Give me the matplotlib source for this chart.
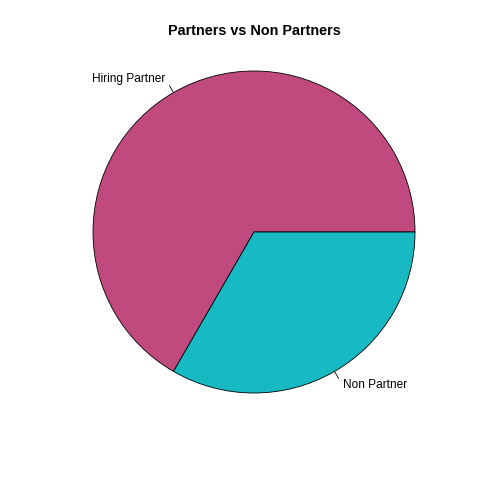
import numpy as np
import matplotlib
matplotlib.use("Agg")
import matplotlib.pyplot as plt

# data
labels = ["Hiring Partner", "Non Partner"]
values = [2, 1]
colors = ["#C04A7E", "#17BAC3"]

plt.rcParams['font.family'] = ['Liberation Sans', 'DejaVu Sans']

fig = plt.figure(figsize=(4.8, 4.8), dpi=100)
ax = fig.add_axes([0, 0, 1, 1])

cx, cy, r = 254, 480 - 232, 161
wedges, texts = ax.pie(values, labels=labels, colors=colors, center=(cx, cy),
                       radius=r, startangle=0, counterclock=True,
                       labeldistance=1.1, frame=True,
                       wedgeprops=dict(edgecolor='black', linewidth=0.6),
                       textprops=dict(fontsize=8.6))
ax.set_xlim(0, 480)
ax.set_ylim(0, 480)
ax.set_aspect('equal')
ax.axis('off')

# small tick lines and label alignment like R's pie
for w, t in zip(wedges, texts):
    mid = np.deg2rad((w.theta1 + w.theta2) / 2)
    ax.plot([cx + r * np.cos(mid), cx + 1.05 * r * np.cos(mid)],
            [cy + r * np.sin(mid), cy + 1.05 * r * np.sin(mid)],
            color='black', linewidth=0.6)
    t.set_ha('left' if np.cos(mid) > 0 else 'right')
    t.set_va('center')

fig.text(254 / 480, 1 - 31 / 480, "Partners vs Non Partners", ha='center', va='center',
         fontsize=10.4, fontweight='bold')

fig.savefig("out.png", dpi=100, facecolor='white')
